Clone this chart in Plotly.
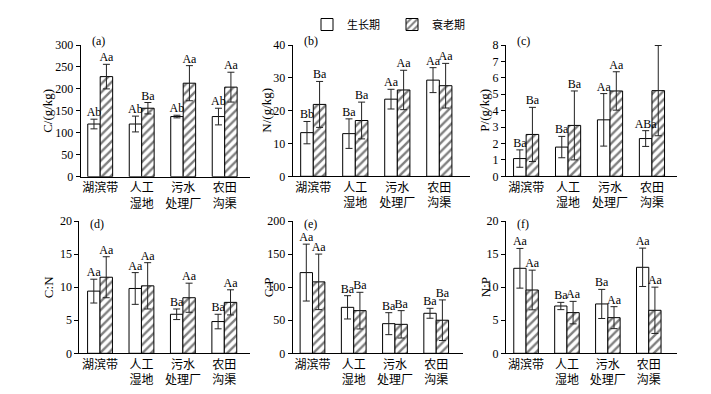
import plotly.graph_objects as go

categories = ["湖滨带", "人工<br>湿地", "污水<br>处理厂", "农田<br>沟渠"]
series_names = ["生长期", "衰老期"]

# values: [growth, senescence]
C_vals = [[120, 120, 137, 137], [228, 156, 213, 204]]
C_err = [[11, 18, 3, 19], [28, 13, 40, 34]]
C_lab = [["Ab", "Ab", "Ab", "Ab"], ["Aa", "Ba", "Aa", "Aa"]]

N_vals = [[13.3, 13.0, 23.5, 29.3], [21.9, 17.0, 26.3, 27.6]]
N_err = [[3.4, 4.5, 3.0, 3.8], [7.0, 5.6, 6.0, 6.8]]
N_lab = [["Bb", "Ba", "Aa", "Aa"], ["Ba", "Ba", "Aa", "Aa"]]

P_vals = [[1.08, 1.78, 3.44, 2.3], [2.55, 3.1, 5.2, 5.22]]
P_err = [[0.53, 0.65, 1.6, 0.48], [1.65, 2.1, 1.17, 2.75]]
P_lab = [["Ba", "Ba", "Aa", "ABa"], ["Ba", "Ba", "Aa", "Aa"]]

CN_vals = [[9.4, 9.8, 5.9, 4.8], [11.5, 10.2, 8.4, 7.7]]
CN_err = [[1.8, 2.4, 0.8, 1.1], [3.1, 3.5, 2.2, 1.9]]
CN_lab = [["Aa", "Aa", "Ba", "Ba"], ["Aa", "Aa", "Aa", "Aa"]]

CP_vals = [[122, 69.5, 44.8, 60.5], [108, 64.5, 43.8, 50]]
CP_err = [[43, 17.6, 16.6, 7.5], [42, 27.7, 20.7, 30.7]]
CP_lab = [["Aa", "Ba", "Ba", "Ba"], ["Aa", "Ba", "Ba", "Ba"]]

NP_vals = [[12.85, 7.15, 7.46, 13.0], [9.57, 6.15, 5.39, 6.5]]
NP_err = [[3.0, 0.55, 2.2, 2.9], [3.0, 1.7, 1.66, 3.5]]
NP_lab = [["Aa", "Ba", "Ba", "Aa"], ["Aa", "Aa", "Aa", "Aa"]]

y_titles = ["C/(g/kg)", "N/(g/kg)", "P/(g/kg)", "C:N", "C:P", "N:P"]
panel_tags = ["(a)", "(b)", "(c)", "(d)", "(e)", "(f)"]
y_ranges = [300, 40, 8, 20, 200, 20]
y_dticks = [50, 10, 1, 5, 50, 5]

panels = [
    (C_vals, C_err, C_lab),
    (N_vals, N_err, N_lab),
    (P_vals, P_err, P_lab),
    (CN_vals, CN_err, CN_lab),
    (CP_vals, CP_err, CP_lab),
    (NP_vals, NP_err, NP_lab),
]

W, H = 711, 394
# pixel layout of each plot area: (x0, x1, ytop, ybottom)
boxes = [
    (80.7, 250, 45, 176.7),
    (292.7, 470, 45, 176.3),
    (506, 676.7, 45, 176.3),
    (79.3, 250, 221, 353.3),
    (292.7, 463, 221, 353.3),
    (506, 677, 221, 353.3),
]
x_ranges = [
    [-0.47, 3.61], [-0.49, 3.73], [-0.48, 3.59],
    [-0.50, 3.62], [-0.48, 3.65], [-0.49, 3.69],
]

SERIF = "Liberation Serif, Noto Sans CJK SC"
fig = go.Figure()
xpos = [0, 1, 2, 3]
offsets = [-0.15, 0.15]

for p, (vals, errs, labs) in enumerate(panels):
    ax = "" if p == 0 else str(p + 1)
    xref, yref = "x" + ax, "y" + ax
    for s in range(2):
        marker = dict(color="white", line=dict(color="black", width=1))
        if s == 1:
            marker["pattern"] = dict(shape="/", size=6, solidity=0.4,
                                     fgcolor="black", bgcolor="white")
        fig.add_trace(go.Bar(
            x=xpos, y=vals[s], name=series_names[s], marker=marker,
            error_y=dict(type="data", array=errs[s], color="#222",
                         thickness=1, width=3.5),
            xaxis=xref, yaxis=yref, showlegend=(p == 0),
            offsetgroup=str(s),
        ))
        fig.add_trace(go.Scatter(
            x=[xi + offsets[s] for xi in xpos],
            y=[v + e for v, e in zip(vals[s], errs[s])],
            text=labs[s], mode="text", textposition="top center",
            textfont=dict(family=SERIF, size=12, color="black"),
            xaxis=xref, yaxis=yref, showlegend=False, hoverinfo="skip",
        ))
    x0, x1, yt, yb = boxes[p]
    fig.update_layout(**{
        "xaxis" + ax: dict(
            domain=[x0 / W, x1 / W], range=x_ranges[p], anchor=yref,
            tickvals=xpos, ticktext=categories, showline=True,
            linecolor="black", linewidth=1, ticks="", showgrid=False,
            zeroline=False, tickfont=dict(family=SERIF, size=12, color="black"),
            automargin=False,
        ),
        "yaxis" + ax: dict(
            domain=[1 - yb / H, 1 - yt / H], range=[0, y_ranges[p]],
            dtick=y_dticks[p], anchor=xref, showline=True, linecolor="black",
            linewidth=1, ticks="outside", ticklen=4, tickcolor="black",
            showgrid=False, zeroline=False,
            tickfont=dict(family=SERIF, size=12, color="black"),
            automargin=False,
        ),
    })
    # y title
    title_x = [48, 267, 485, 48, 268, 485][p]
    fig.add_annotation(
        x=title_x / W, y=1 - (yt + yb) / 2 / H, xref="paper", yref="paper",
        text=y_titles[p], textangle=-90, showarrow=False,
        font=dict(family=SERIF, size=13, color="black"),
        xanchor="center", yanchor="middle",
    )
    tag_y = yt - 4 if p < 3 else yt + 3.5
    fig.add_annotation(
        x=(x0 + 9) / W, y=1 - tag_y / H, xref="paper", yref="paper",
        text=panel_tags[p], showarrow=False,
        font=dict(family=SERIF, size=12, color="black"),
        xanchor="left", yanchor="middle",
    )

fig.update_layout(
    width=W, height=H,
    margin=dict(l=0, r=0, t=0, b=0),
    paper_bgcolor="white", plot_bgcolor="white",
    barmode="group", bargap=0.4, bargroupgap=0,
    legend=dict(orientation="h", x=307 / W, y=1 - 10 / H, xanchor="left",
                yanchor="top", font=dict(family=SERIF, size=11, color="black"),
                entrywidth=40, tracegroupgap=0, bgcolor="rgba(0,0,0,0)"),
    font=dict(family=SERIF, color="black"),
)

fig.write_html("out.html", config={"displayModeBar": False},
               post_script="document.body.style.margin='0';")
